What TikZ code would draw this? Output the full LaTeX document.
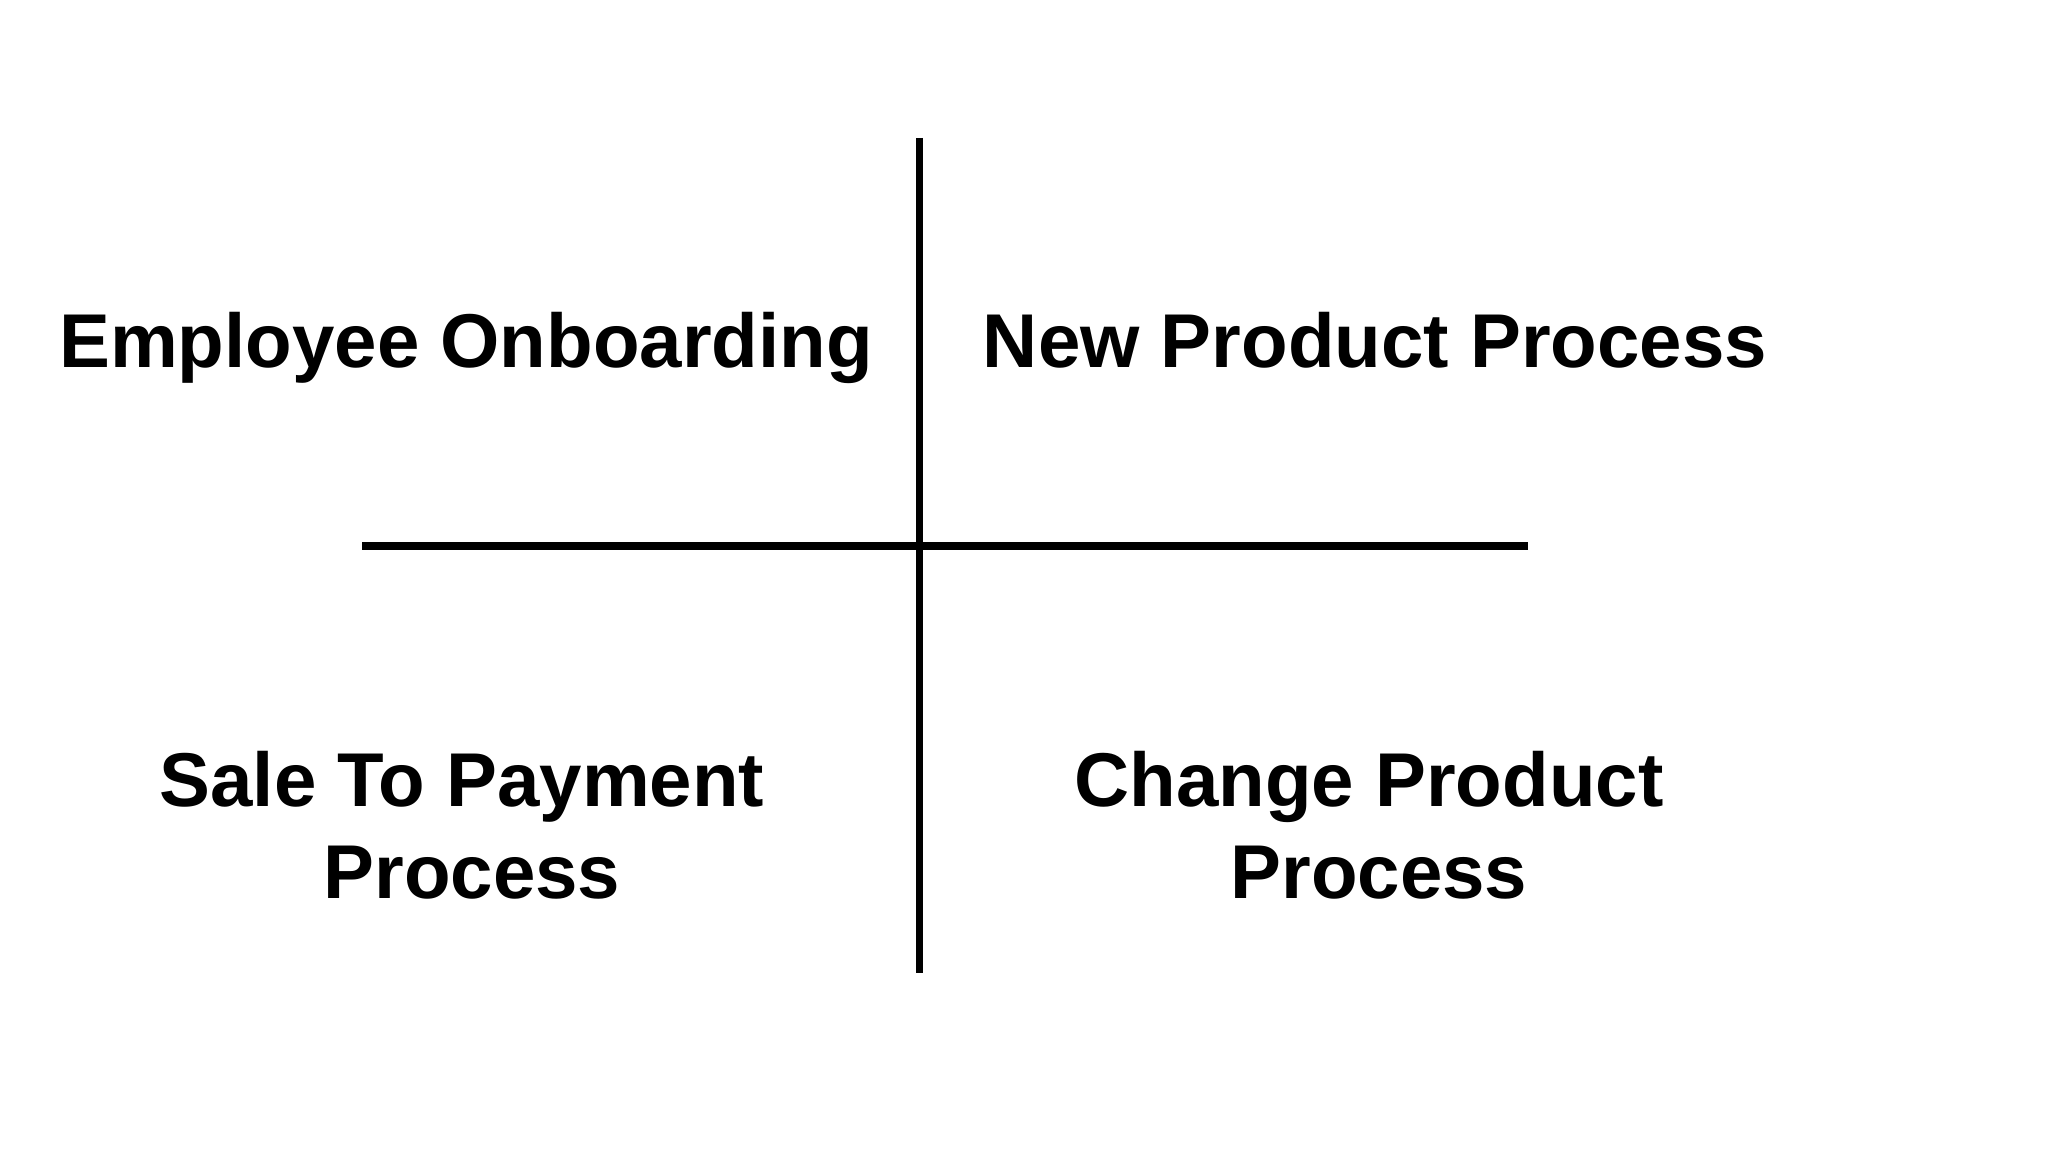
\documentclass[tikz,border=0pt]{standalone}
\usepackage{fontspec}
\setmainfont{Liberation Sans}
\usetikzlibrary{positioning}
\tikzset{
    axis/.style = {draw, line width=2.2pt},
    quad/.style = {align=center, font=\bfseries\fontsize{21.7}{26.2}\selectfont, inner sep=0pt}
}
\begin{document}
\begin{tikzpicture}
                \useasboundingbox (0,0) rectangle (20.48,11.52);
                \coordinate (top) at (9.195,10.14);
                \coordinate (bottom) at (9.195,1.79);
                \coordinate (left) at (3.62,6.06);
                \coordinate (right) at (15.28,6.06);
                \node[quad,anchor=base] (onboard) at (4.66,7.84) {Employee Onboarding};
                \node[quad,anchor=base] (newprod) at (13.75,7.84) {New Product Process};
                \node[quad,anchor=base] (sale) at (4.62,3.45) {Sale To Payment};
                \node[quad,anchor=base] (saleb) at (4.72,2.53) {Process};
                \node[quad,anchor=base] (change) at (13.69,3.45) {Change Product};
                \node[quad,anchor=base] (changeb) at (13.79,2.53) {Process};
                \draw [axis] (top) -- (bottom);
                \draw [axis] (left) -- (right);
\end{tikzpicture}
\end{document}
